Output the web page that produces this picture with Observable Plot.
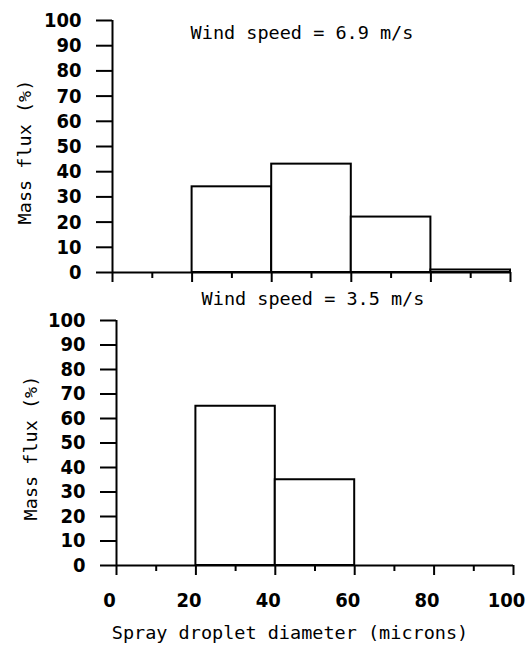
<!DOCTYPE html>
<html>
<head>
<meta charset="utf-8">
<script src="https://cdn.jsdelivr.net/npm/d3@7"></script>
<script src="https://cdn.jsdelivr.net/npm/@observablehq/plot@0.6"></script>
<style>
  body { margin: 0; background: #fff; }
  .panel { position: relative; width: 527px; }
  .panel svg { display: block; }
  .lbl { position: absolute; transform: translate(-50%, -50%); white-space: nowrap;
         font-family: "DejaVu Sans Mono", monospace; font-size: 18.5px; color: #000; }
  .rot { transform: translate(-50%, -50%) rotate(-90deg); }
</style>
</head>
<body>
<div id="top" class="panel">
  <div class="lbl" style="left:302px; top:32px">Wind speed = 6.9 m/s</div>
  <div class="lbl rot" style="left:24px; top:152px">Mass flux (%)</div>
</div>
<div id="bottom" class="panel">
  <div class="lbl" style="left:313px; top:8px">Wind speed = 3.5 m/s</div>
  <div class="lbl rot" style="left:30px; top:158px">Mass flux (%)</div>
  <div class="lbl" style="left:290px; top:342px">Spray droplet diameter (microns)</div>
</div>
<script>
// Data
const binStartHigh = [20, 40, 60, 80];
const binEndHigh   = [40, 60, 80, 100];
const fluxHigh     = [34, 43, 22, 1];     // wind speed 6.9 m/s
const binStartLow  = [20, 40];
const binEndLow    = [40, 60];
const fluxLow      = [65, 35];            // wind speed 3.5 m/s
const xMajorTicks  = [0, 20, 40, 60, 80, 100];
const xMinorTicks  = [10, 30, 50, 70, 90];
const yTicks       = [0, 10, 20, 30, 40, 50, 60, 70, 80, 90, 100];

const tickFont = "'Liberation Sans Narrow', 'DejaVu Sans Condensed', 'DejaVu Sans Mono', sans-serif";

function toRows(starts, ends, vals) {
  return starts.map((s, i) => ({x1: s, x2: ends[i], y: vals[i]}));
}

function panel(rows, opts) {
  const marks = [
    Plot.rectY(rows, {x1: "x1", x2: "x2", y: "y", fill: "white", stroke: "black", strokeWidth: 2}),
    Plot.ruleY([0], {x1: 0, x2: 100, stroke: "black", strokeWidth: 2}),
    Plot.ruleX([0], {y1: 0, y2: 100, stroke: "black", strokeWidth: 2}),
    Plot.axisY(yTicks, {tickSize: 16, tickPadding: 15, strokeWidth: 2, fontWeight: "bold", fontSize: 20,
      fontFamily: tickFont, label: null}),
    Plot.axisX(xMinorTicks, {tickSize: 6, strokeWidth: 2, tickFormat: () => "", label: null}),
    Plot.axisX(xMajorTicks, {tickSize: 10, strokeWidth: 2, tickFormat: () => "", label: null})
  ];
  if (opts.showX) {
    marks.push(Plot.axisX(xMajorTicks, {tickSize: 0, tickPadding: 27, fontWeight: "bold", fontSize: 20,
      fontFamily: tickFont, dx: -7, label: null}));
  }
  return Plot.plot({
    width: 527,
    height: opts.height,
    marginTop: opts.marginTop,
    marginBottom: opts.marginBottom,
    marginLeft: opts.marginLeft,
    marginRight: opts.marginRight,
    x: {domain: [0, 100], axis: null},
    y: {domain: [0, 100], axis: null},
    style: {fontFamily: "'DejaVu Sans Mono', monospace", fontSize: "18px", color: "black", background: "transparent", overflow: "visible"},
    marks
  });
}

document.getElementById("top").appendChild(panel(toRows(binStartHigh, binEndHigh, fluxHigh), {
  height: 290, marginTop: 20, marginBottom: 18, marginLeft: 112, marginRight: 17, showX: false
}));
document.getElementById("bottom").appendChild(panel(toRows(binStartLow, binEndLow, fluxLow), {
  height: 357, marginTop: 30, marginBottom: 82, marginLeft: 116, marginRight: 14, showX: true
}));
</script>
</body>
</html>
